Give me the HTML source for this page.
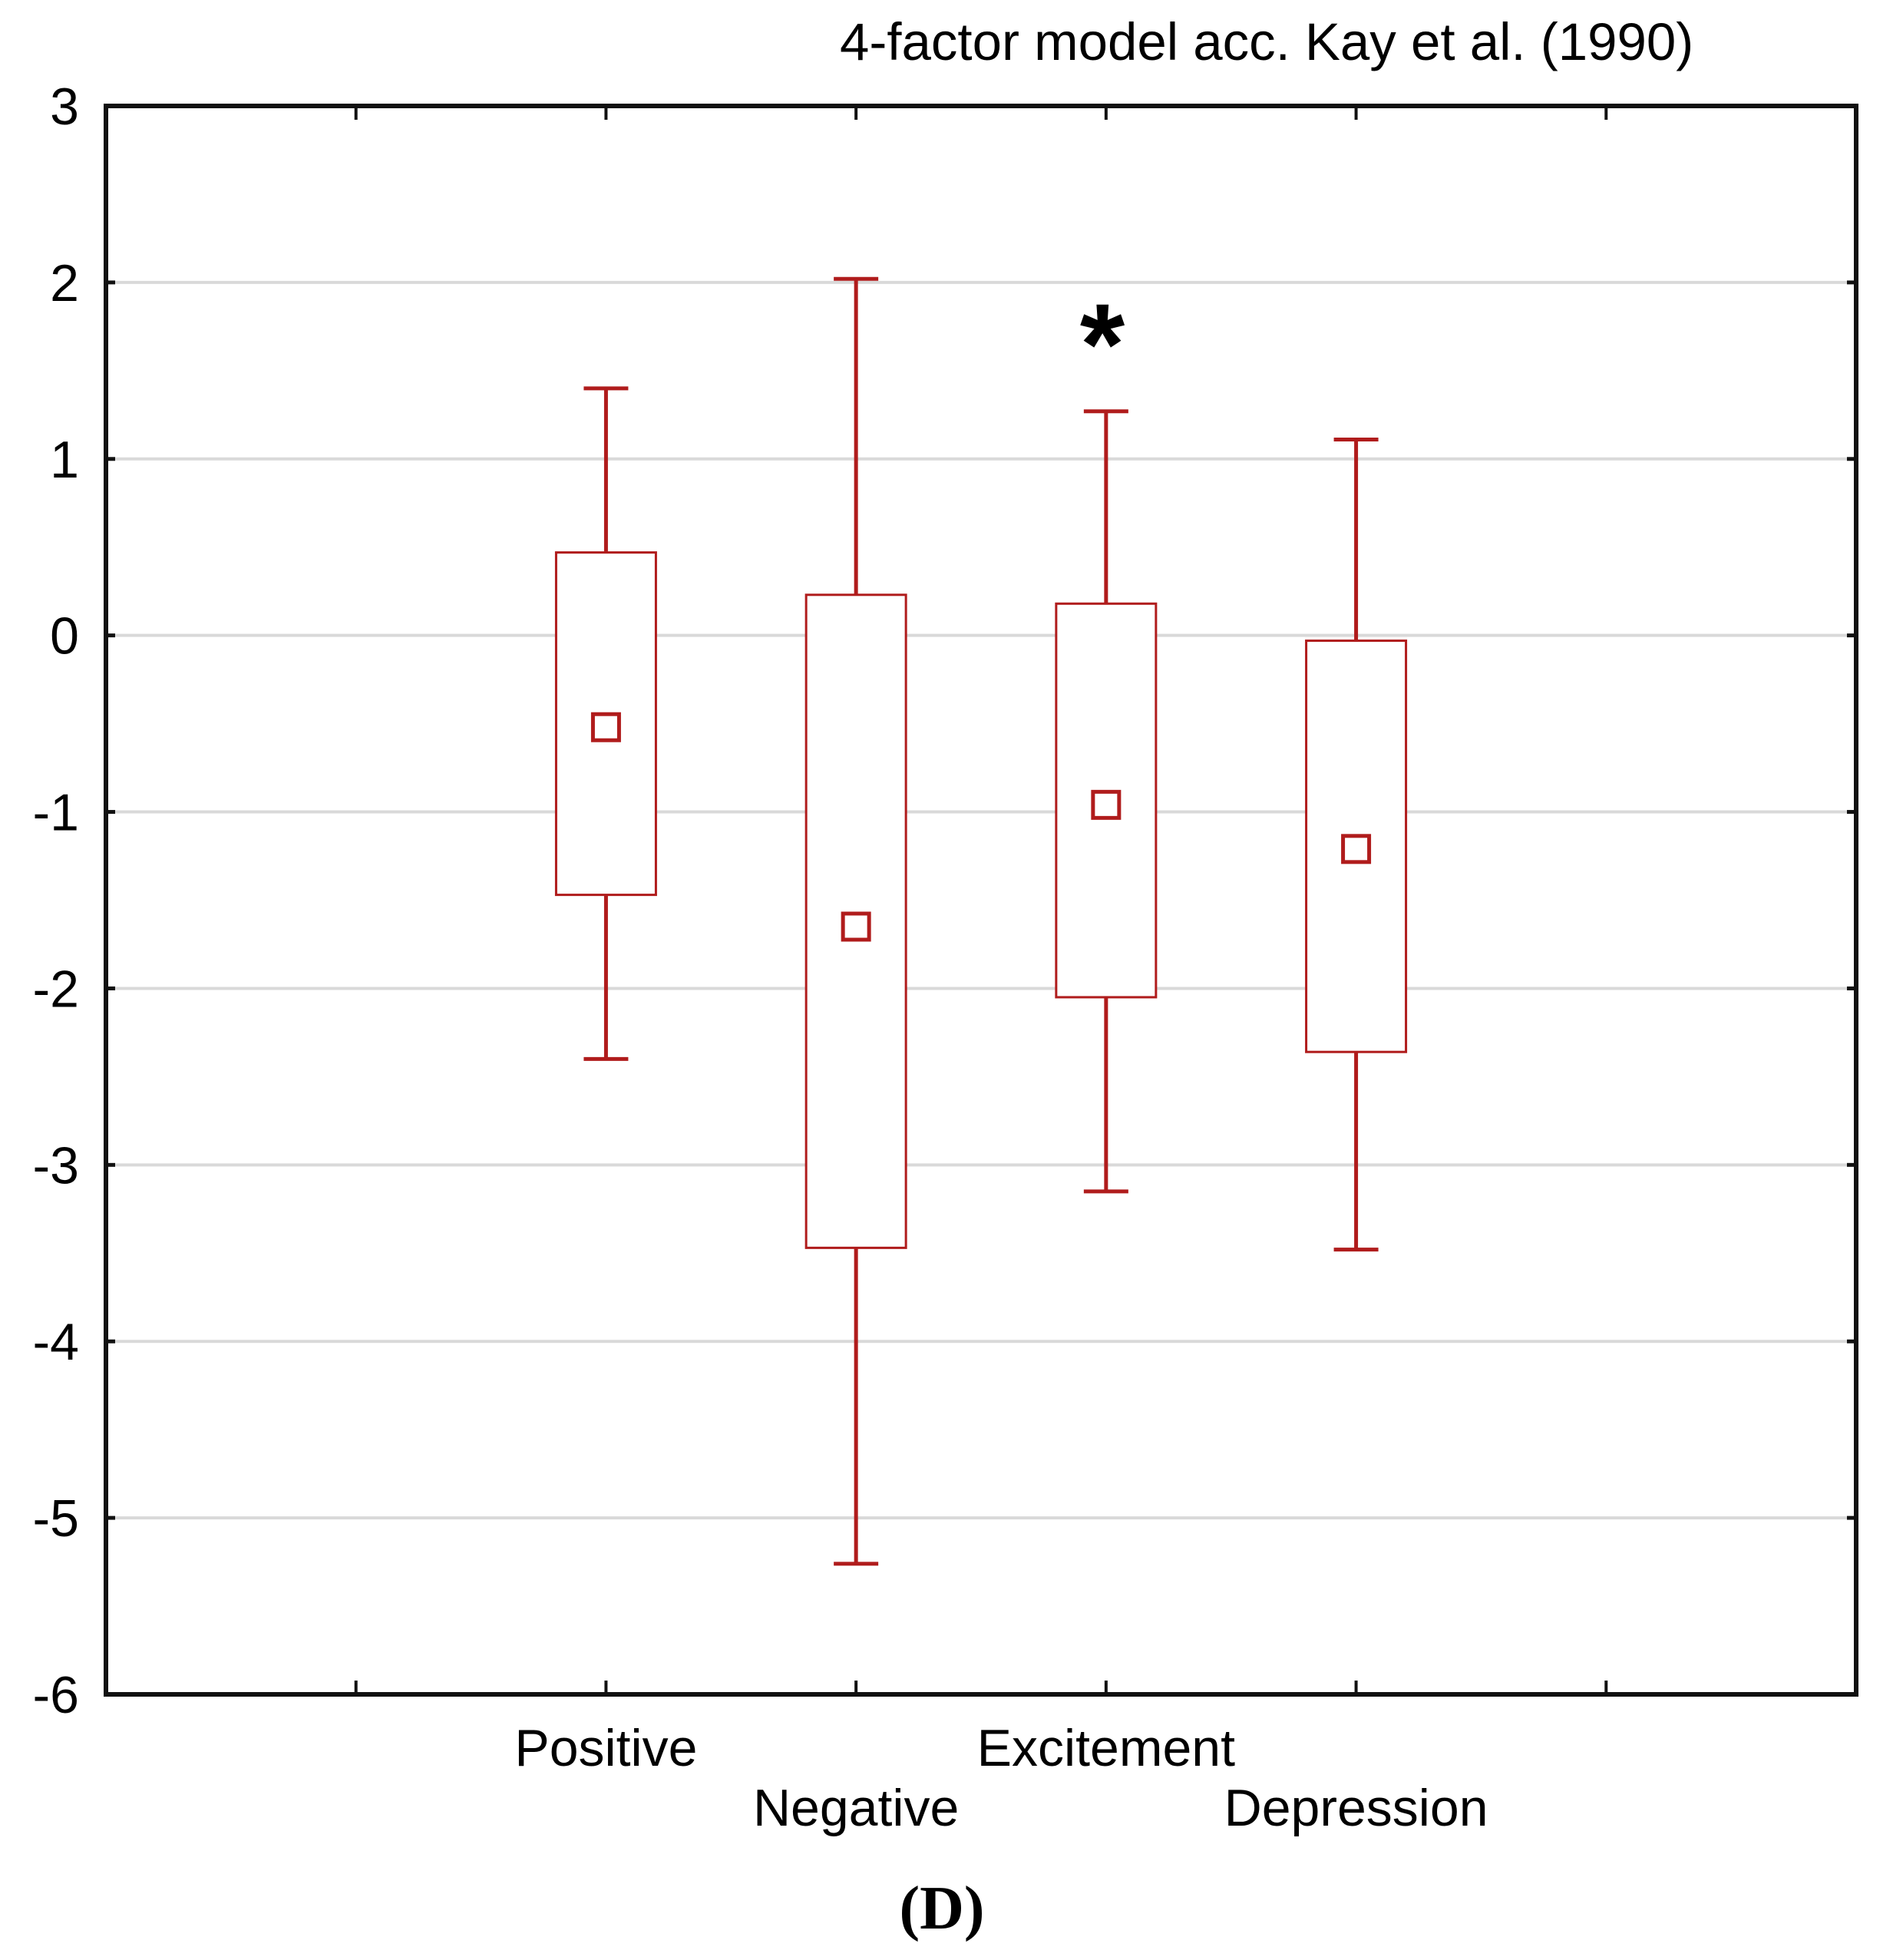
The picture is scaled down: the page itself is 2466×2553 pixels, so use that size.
<!DOCTYPE html>
<html><head><meta charset="utf-8"><style>
html,body{margin:0;padding:0;background:#fff;}
svg{display:block;}
text{font-family:"Liberation Sans",Arial,sans-serif;fill:#000;}
</style></head><body>
<svg id="chart" width="2466" height="2553" viewBox="0 0 2466 2553">
<text x="1094" y="78" font-size="69">4-factor model acc. Kay et al. (1990)</text>
<g id="grid"></g>
<g id="yticks"></g>
<g id="xticks"></g>
<g id="boxes"></g>
<rect x="138" y="138" width="2280" height="2069" fill="none" stroke="#111" stroke-width="6"/>
<text x="1436" y="500" font-size="150" font-weight="bold" text-anchor="middle">*</text>
<text x="1227" y="2512" font-size="80" font-weight="bold" text-anchor="middle" style="font-family:'Liberation Serif',serif">(D)</text>
</svg>
<script>
const categories = ["Positive","Negative","Excitement","Depression"];
const whiskerHigh = [1.40, 2.02, 1.27, 1.11];
const boxHigh = [0.47, 0.23, 0.18, -0.03];
const means = [-0.52, -1.65, -0.96, -1.21];
const boxLow = [-1.47, -3.47, -2.05, -2.36];
const whiskerLow = [-2.40, -5.26, -3.15, -3.48];
const yTicks = [3,2,1,0,-1,-2,-3,-4,-5,-6];

const NS="http://www.w3.org/2000/svg";
const L=138,R=2418,T=138,B=2207,YMAX=3,YMIN=-6;
const y=v=>T+(YMAX-v)/(YMAX-YMIN)*(B-T);
const slot=(R-L)/7;
const x=i=>L+slot*(i+2);
function mk(tag,attrs,parent){const e=document.createElementNS(NS,tag);for(const k in attrs)e.setAttribute(k,attrs[k]);parent.appendChild(e);return e;}
const grid=document.getElementById('grid'),yt=document.getElementById('yticks'),xt=document.getElementById('xticks'),bx=document.getElementById('boxes');
yTicks.forEach(v=>{
  if(v!==YMAX&&v!==YMIN){const g=mk('line',{x1:L,x2:R,y1:y(v),y2:y(v),stroke:'#d9d9d9','stroke-width':4},grid);
  
  }
  const tk=mk('line',{x1:L,x2:L+12,y1:y(v),y2:y(v),stroke:'#111','stroke-width':5},yt);
  
  
  const tk2=mk('line',{x1:R-12,x2:R,y1:y(v),y2:y(v),stroke:'#111','stroke-width':5},yt);
  
  
  const t=mk('text',{x:103,y:y(v)+24,'font-size':68,'text-anchor':'end'},yt);
  t.textContent=v;
  
  
});
for(let k=1;k<7;k++){
  const xx=L+slot*k;
  const a=mk('line',{x1:xx,x2:xx,y1:B-18,y2:B,stroke:'#111','stroke-width':4},xt);
  
  
  const b=mk('line',{x1:xx,x2:xx,y1:T,y2:T+18,stroke:'#111','stroke-width':4},xt);
  
  
}
const red="#b01c1c";
categories.forEach((c,i)=>{
  const cx=x(i);
  const g=mk('g',{},bx);
  
  
  mk('line',{x1:cx,x2:cx,y1:y(whiskerHigh[i]),y2:y(boxHigh[i]),stroke:red,'stroke-width':5},g);
  mk('line',{x1:cx,x2:cx,y1:y(boxLow[i]),y2:y(whiskerLow[i]),stroke:red,'stroke-width':5},g);
  mk('line',{x1:cx-29,x2:cx+29,y1:y(whiskerHigh[i]),y2:y(whiskerHigh[i]),stroke:red,'stroke-width':5},g);
  mk('line',{x1:cx-29,x2:cx+29,y1:y(whiskerLow[i]),y2:y(whiskerLow[i]),stroke:red,'stroke-width':5},g);
  mk('rect',{x:cx-65,y:y(boxHigh[i]),width:130,height:y(boxLow[i])-y(boxHigh[i]),fill:'#fff',stroke:red,'stroke-width':3},g);
  mk('rect',{x:cx-17,y:y(means[i])-17,width:34,height:34,fill:'none',stroke:red,'stroke-width':5},g);
  const t=mk('text',{x:cx,y:(i%2===0)?2300:2378,'font-size':68,'text-anchor':'middle'},xt);
  t.textContent=c;
  
  
});
</script>
</body></html>
